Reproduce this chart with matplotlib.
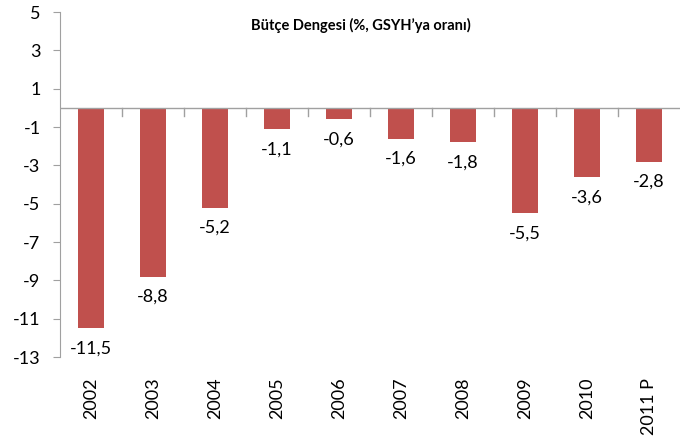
import matplotlib.pyplot as plt
import matplotlib.transforms as mtransforms

years = ["2002", "2003", "2004", "2005", "2006", "2007", "2008", "2009", "2010", "2011 P"]
values = [-11.5, -8.8, -5.2, -1.1, -0.6, -1.6, -1.8, -5.5, -3.6, -2.8]
title = "Bütçe Dengesi (%, GSYH’ya oranı)"

plt.rcParams['font.family'] = ['Lato', 'DejaVu Sans']

fig = plt.figure(figsize=(6.99, 4.41), dpi=100)
ax = fig.add_axes([60/699, 1-357/441, 620/699, 345/441])

x = list(range(len(years)))
ax.bar(x, values, width=0.42, color="#C0504D", zorder=2)
ax.set_xlim(-0.5, len(years)-0.5)
ax.set_ylim(-13, 5)
ax.set_yticks(range(-13, 6, 2))
ax.set_yticklabels([str(v) for v in range(-13, 6, 2)], fontsize=13)

for s in ["top", "right", "bottom"]:
    ax.spines[s].set_visible(False)
ax.spines["left"].set_color("#A0A0A0")
ax.tick_params(axis="y", color="#A0A0A0", length=5, pad=9)

# x axis line at zero with category boundary ticks
ax.axhline(0, color="#A0A0A0", lw=1, zorder=3)
ax.set_xticks([])
for b in range(1, len(years)):
    ax.plot([b-0.5, b-0.5], [0, -0.4], color="#A0A0A0", lw=1, zorder=3)

for xi, v in zip(x, values):
    ax.annotate(f"{v:.1f}".replace(".", ","), (xi, v), xytext=(0, -9),
                textcoords="offset points", ha="center", va="top", fontsize=13)

trans = mtransforms.blended_transform_factory(ax.transData, ax.transAxes)
for xi, lab in zip(x, years):
    ax.text(xi, -0.06, lab, transform=trans, rotation=90, ha="center", va="top", fontsize=13)

ax.text(0.485, 0.962, title, transform=ax.transAxes, ha="center", va="center",
        fontsize=10.5, fontweight="bold")

fig.savefig("out.png", dpi=100)
